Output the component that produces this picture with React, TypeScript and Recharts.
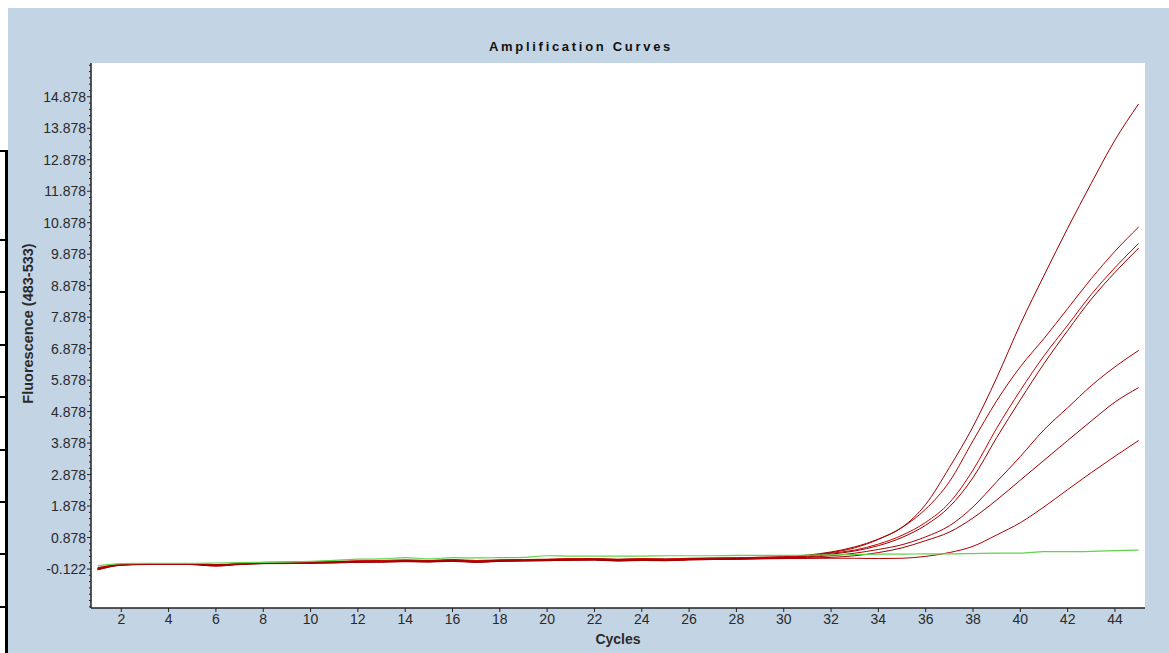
import React from 'react';
import { LineChart, Line, XAxis, YAxis, CartesianGrid, Label } from 'recharts';

const CYCLES = [1, 2, 3, 4, 5, 6, 7, 8, 9, 10, 11, 12, 13, 14, 15, 16, 17, 18, 19, 20, 21, 22, 23, 24, 25, 26, 27, 28, 29, 30, 31, 32, 33, 34, 35, 36, 37, 38, 39, 40, 41, 42, 43, 44, 45];

const SAMPLE_A = [-0.12, 0.02, 0.04, 0.05, 0.04, 0.0, 0.05, 0.08, 0.08, 0.09, 0.1, 0.13, 0.13, 0.15, 0.14, 0.17, 0.13, 0.16, 0.17, 0.18, 0.2, 0.21, 0.18, 0.2, 0.19, 0.21, 0.22, 0.23, 0.25, 0.27, 0.32, 0.42, 0.58, 0.83, 1.2, 1.93, 3.1, 4.4, 5.95, 7.65, 9.2, 10.7, 12.13, 13.5, 14.65];
const SAMPLE_B = [-0.15, 0.0, 0.03, 0.04, 0.03, -0.02, 0.03, 0.06, 0.07, 0.07, 0.08, 0.1, 0.11, 0.12, 0.11, 0.14, 0.1, 0.13, 0.15, 0.15, 0.17, 0.18, 0.15, 0.16, 0.15, 0.18, 0.19, 0.2, 0.22, 0.24, 0.3, 0.4, 0.55, 0.82, 1.2, 1.78, 2.65, 3.95, 5.22, 6.3, 7.2, 8.15, 9.1, 9.97, 10.74];
const SAMPLE_C = [-0.08, 0.03, 0.05, 0.05, 0.04, 0.02, 0.05, 0.09, 0.1, 0.11, 0.12, 0.14, 0.15, 0.17, 0.15, 0.18, 0.15, 0.17, 0.18, 0.19, 0.21, 0.21, 0.19, 0.21, 0.2, 0.22, 0.23, 0.24, 0.25, 0.26, 0.29, 0.38, 0.48, 0.67, 0.95, 1.36, 1.98, 3.02, 4.35, 5.55, 6.65, 7.62, 8.6, 9.45, 10.22];
const SAMPLE_D = [-0.13, 0.01, 0.03, 0.03, 0.02, -0.03, 0.02, 0.05, 0.05, 0.06, 0.07, 0.09, 0.1, 0.11, 0.1, 0.12, 0.09, 0.12, 0.13, 0.14, 0.16, 0.16, 0.13, 0.15, 0.14, 0.17, 0.18, 0.19, 0.21, 0.23, 0.26, 0.35, 0.45, 0.62, 0.88, 1.27, 1.85, 2.78, 4.05, 5.25, 6.4, 7.45, 8.45, 9.3, 10.07];
const SAMPLE_E = [-0.1, 0.02, 0.04, 0.04, 0.03, 0.01, 0.04, 0.07, 0.08, 0.09, 0.1, 0.12, 0.12, 0.14, 0.13, 0.15, 0.12, 0.15, 0.16, 0.17, 0.18, 0.19, 0.17, 0.18, 0.17, 0.19, 0.2, 0.21, 0.22, 0.23, 0.25, 0.3, 0.38, 0.5, 0.65, 0.9, 1.25, 1.85, 2.65, 3.45, 4.3, 5.0, 5.7, 6.3, 6.82];
const SAMPLE_F = [-0.14, 0.0, 0.02, 0.03, 0.02, -0.01, 0.03, 0.05, 0.06, 0.07, 0.08, 0.1, 0.1, 0.12, 0.11, 0.13, 0.1, 0.13, 0.14, 0.15, 0.16, 0.17, 0.14, 0.16, 0.15, 0.17, 0.18, 0.19, 0.2, 0.21, 0.22, 0.25, 0.3, 0.4, 0.55, 0.78, 1.05, 1.5, 2.07, 2.7, 3.33, 3.96, 4.58, 5.18, 5.64];
const SAMPLE_G = [-0.11, 0.01, 0.03, 0.04, 0.03, 0.0, 0.04, 0.06, 0.07, 0.08, 0.09, 0.11, 0.11, 0.13, 0.12, 0.14, 0.11, 0.14, 0.15, 0.16, 0.17, 0.18, 0.16, 0.17, 0.16, 0.18, 0.19, 0.2, 0.21, 0.22, 0.22, 0.22, 0.22, 0.21, 0.22, 0.28, 0.4, 0.6, 0.96, 1.35, 1.85, 2.4, 2.94, 3.46, 3.96];
const NEG_CONTROL = [-0.02, 0.05, 0.06, 0.06, 0.06, 0.07, 0.08, 0.09, 0.1, 0.12, 0.15, 0.19, 0.2, 0.24, 0.2, 0.24, 0.23, 0.24, 0.25, 0.3, 0.29, 0.29, 0.29, 0.29, 0.3, 0.3, 0.3, 0.31, 0.31, 0.31, 0.32, 0.33, 0.34, 0.35, 0.35, 0.36, 0.36, 0.37, 0.38, 0.38, 0.43, 0.43, 0.44, 0.46, 0.48];

const X_TICKS = [2, 4, 6, 8, 10, 12, 14, 16, 18, 20, 22, 24, 26, 28, 30, 32, 34, 36, 38, 40, 42, 44];
const Y_MAJOR_TICKS = [-0.122, 0.878, 1.878, 2.878, 3.878, 4.878, 5.878, 6.878, 7.878, 8.878, 9.878, 10.878, 11.878, 12.878, 13.878, 14.878];
const X_DOMAIN: [number, number] = [0.72, 45.27];
const Y_DOMAIN: [number, number] = [-1.36, 15.95];

const TITLE = 'Amplification Curves';
const X_LABEL = 'Cycles';
const Y_LABEL = 'Fluorescence (483-533)';

const SERIES = [
  { key: 's1', values: SAMPLE_A, color: '#9a0000' },
  { key: 's2', values: SAMPLE_B, color: '#b00000' },
  { key: 's3', values: SAMPLE_C, color: '#cc0000' },
  { key: 's4', values: SAMPLE_D, color: '#990000' },
  { key: 's5', values: SAMPLE_E, color: '#a80000' },
  { key: 's6', values: SAMPLE_F, color: '#990000' },
  { key: 's7', values: SAMPLE_G, color: '#b00000' },
];

const data = CYCLES.map((c, i) => {
  const row: Record<string, number> = { cycle: c, neg: NEG_CONTROL[i] };
  SERIES.forEach((s) => {
    row[s.key] = s.values[i];
  });
  return row;
});

// minor ticks: 5 subdivisions between each labelled tick
const yTicks: number[] = [];
for (let j = -6; j <= 80; j++) {
  const v = Math.round((Y_MAJOR_TICKS[0] + 0.2 * j) * 1000) / 1000;
  if (v > Y_DOMAIN[0] && v < Y_DOMAIN[1]) yTicks.push(v);
}
const isMajor = (v: number) => Y_MAJOR_TICKS.some((m) => Math.abs(m - v) < 1e-6);

const FONT = '"Liberation Sans", Arial, sans-serif';
const TEXT = '#2a2a2a';
const AXIS = '#222';

const YTick = (props: any) => {
  const { x, y, payload } = props;
  const v = payload.value as number;
  const major = isMajor(v);
  return (
    <g>
      <line x1={x - (major ? 4 : 2)} x2={x} y1={y} y2={y} stroke={AXIS} strokeWidth={1} />
      {major && (
        <text x={x - 5} y={y} textAnchor="end" dominantBaseline="central" fontSize={14} fill={TEXT} fontFamily={FONT}>
          {v.toFixed(3)}
        </text>
      )}
    </g>
  );
};

const YLabelContent = (props: any) => {
  const vb = props.viewBox || { x: 16, y: 63, width: 75, height: 545 };
  const cx = vb.x + 11.5;
  const cy = vb.y + vb.height / 2 - 12;
  return (
    <text x={cx} y={cy} transform={`rotate(-90 ${cx} ${cy})`} textAnchor="middle" dominantBaseline="central" fontSize={14.5} fontWeight="bold" fill={TEXT} fontFamily={FONT}>
      {Y_LABEL}
    </text>
  );
};

const XLabelContent = (props: any) => {
  const vb = props.viewBox || { x: 91, y: 608, width: 1054, height: 40 };
  const cx = vb.x + vb.width / 2;
  const cy = vb.y + 31;
  return (
    <text x={cx} y={cy} textAnchor="middle" dominantBaseline="central" fontSize={14} fontWeight="bold" fill={TEXT} fontFamily={FONT}>
      {X_LABEL}
    </text>
  );
};

const BRACKET_TICKS = [239, 291, 344, 396, 449, 501, 553, 606];

export default function App() {
  return (
    <div style={{ position: 'absolute', left: 0, top: 0, width: 1169, height: 653, background: '#ffffff', overflow: 'hidden' }}>
      <div style={{ position: 'absolute', left: 8, top: 8, width: 1161, height: 645, background: '#c3d4e5' }} />
      <div style={{ position: 'absolute', left: 5, top: 150, width: 3, height: 503, background: '#000' }} />
      <div style={{ position: 'absolute', left: 0, top: 150, width: 8, height: 2, background: '#000' }} />
      {BRACKET_TICKS.map((t) => (
        <div key={t} style={{ position: 'absolute', left: 0, top: t, width: 6, height: 2, background: '#000' }} />
      ))}
      <div
        style={{
          position: 'absolute',
          left: 8,
          top: 38,
          width: 1146,
          textAlign: 'center',
          fontFamily: FONT,
          fontWeight: 'bold',
          fontSize: 13,
          letterSpacing: '2.7px',
          color: '#111',
          lineHeight: '17px',
        }}
      >
        {TITLE}
      </div>
      <div style={{ position: 'absolute', left: 0, top: 0 }}>
        <LineChart width={1169} height={653} data={data} margin={{ top: 63, right: 24, bottom: 5, left: 16 }}>
          <CartesianGrid horizontal={false} vertical={false} fill="#ffffff" />
          <XAxis
            dataKey="cycle"
            type="number"
            domain={X_DOMAIN}
            allowDataOverflow
            ticks={X_TICKS}
            interval={0}
            height={40}
            tickSize={4}
            tickMargin={2}
            axisLine={{ stroke: AXIS, strokeWidth: 1.5 }}
            tickLine={{ stroke: AXIS }}
            tick={{ fontSize: 14, fill: TEXT, fontFamily: FONT }}
          >
            <Label content={<XLabelContent />} />
          </XAxis>
          <XAxis xAxisId="top" orientation="top" type="number" domain={X_DOMAIN} allowDataOverflow height={0} tick={false} tickLine={false} axisLine={{ stroke: AXIS, strokeWidth: 1.5 }} />
          <YAxis
            type="number"
            domain={Y_DOMAIN}
            allowDataOverflow
            ticks={yTicks}
            interval={0}
            width={75}
            tickSize={0}
            tickMargin={0}
            tickLine={false}
            axisLine={{ stroke: AXIS, strokeWidth: 1.5 }}
            tick={<YTick />}
          >
            <Label content={<YLabelContent />} />
          </YAxis>
          <YAxis yAxisId="right" orientation="right" type="number" domain={Y_DOMAIN} allowDataOverflow width={0} tick={false} tickLine={false} axisLine={{ stroke: AXIS, strokeWidth: 1.5 }} />
          {SERIES.map((s) => (
            <Line key={s.key} type="monotone" dataKey={s.key} stroke={s.color} strokeWidth={1} dot={false} isAnimationActive={false} />
          ))}
          <Line type="monotone" dataKey="neg" stroke="#5fd34a" strokeWidth={1.2} dot={false} isAnimationActive={false} />
        </LineChart>
      </div>
    </div>
  );
}
